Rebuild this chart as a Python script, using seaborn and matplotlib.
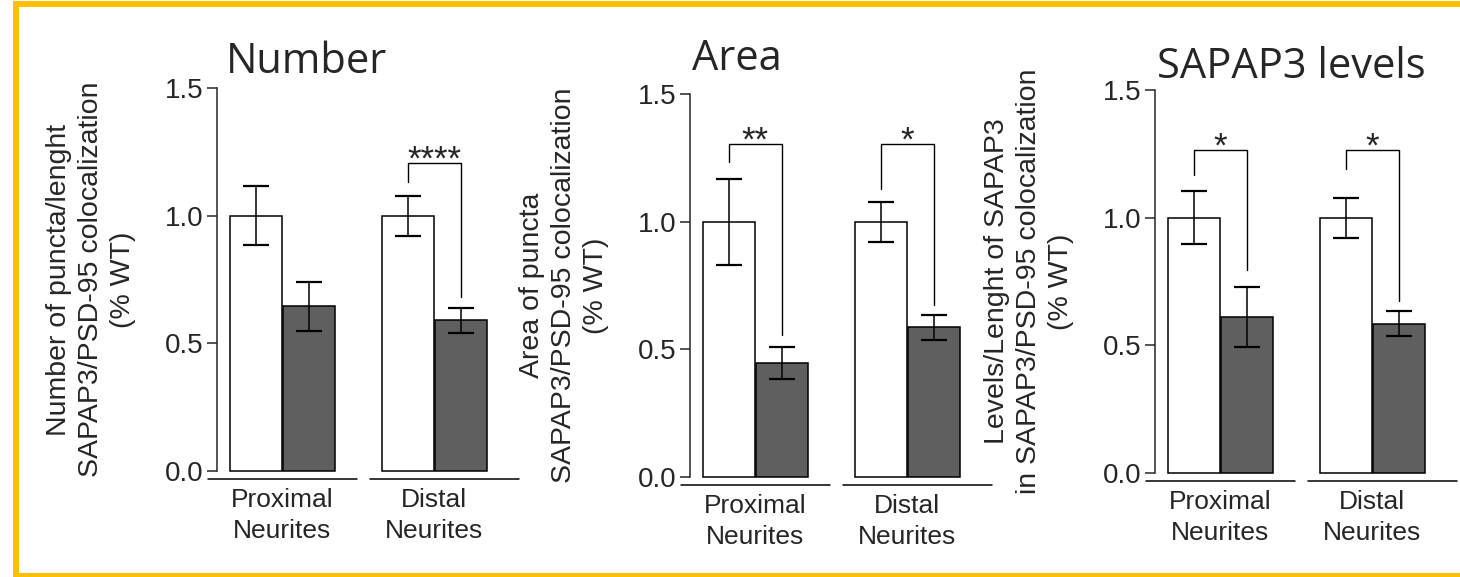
import pandas as pd
import matplotlib.pyplot as plt
import numpy as np
import seaborn as sns
from matplotlib.lines import Line2D
from matplotlib.ticker import FormatStrFormatter

#Values (mean and SEM, normalised to WT)
regions = ['Proximal\nNeurites', 'Distal\nNeurites']
genotypes = ['WT', 'Mutant']

number_wt = [1.0, 1.0]
number_wt_sem = [0.115, 0.078]
number_mut = [0.645, 0.59]
number_mut_sem = [0.097, 0.05]

area_wt = [1.0, 1.0]
area_wt_sem = [0.168, 0.078]
area_mut = [0.447, 0.587]
area_mut_sem = [0.063, 0.049]

levels_wt = [1.0, 1.0]
levels_wt_sem = [0.105, 0.078]
levels_mut = [0.612, 0.585]
levels_mut_sem = [0.118, 0.048]

#Significance stars per region and bracket heights (left leg, top, right leg)
number_stars = ['', '****']
number_brackets = [None, (1.13, 1.205, 0.68)]
area_stars = ['**', '*']
area_brackets = [(1.235, 1.305, 0.557), (1.127, 1.305, 0.674)]
levels_stars = ['*', '*']
levels_brackets = [(1.167, 1.265, 0.795), (1.19, 1.265, 0.672)]

titles = ['Number', 'Area', 'SAPAP3 levels']
ylabels = ['Number of puncta/lenght\nSAPAP3/PSD-95 colocalization\n(% WT)',
           'Area of puncta\nSAPAP3/PSD-95 colocalization\n(% WT)',
           'Levels/Lenght of SAPAP3\nin SAPAP3/PSD-95 colocalization\n(% WT)']

sns.set_style('ticks')
plt.rcParams['font.family'] = ['Liberation Sans', 'DejaVu Sans']

W, H = 1460, 577
fig = plt.figure(figsize=(W / 100, H / 100), dpi=100)

#pixel layout: spine x, y of 1.5, y of 0.0, title x, title baseline y
layout = [(217, 88, 471, 226, 73),
          (690, 94, 477, 692, 70),
          (1155, 90, 473, 1157, 78)]
unit = 152
xlim = (-0.43, 1.6)
line_spans = [(-0.49, 0.49), (-0.425, 0.555)]


def draw_panel(ax, wt, wt_sem, mut, mut_sem, stars, brackets, ylabel):
    df = pd.DataFrame({'region': regions * 2,
                       'genotype': [genotypes[0]] * 2 + [genotypes[1]] * 2,
                       'value': wt + mut})
    sems = [wt_sem, mut_sem]
    sns.barplot(data=df, x='region', y='value', hue='genotype', order=regions,
                hue_order=genotypes, palette=['white', '#5f5f5f'], saturation=1,
                edgecolor='black', linewidth=1.1, width=0.704, gap=0.03,
                errorbar=None, legend=False, ax=ax)

    bar_conts = list(ax.containers)
    centers = []
    for i, cont in enumerate(bar_conts):
        row = []
        for j, bar in enumerate(cont):
            bar.set_clip_on(False)
            cx = bar.get_x() + bar.get_width() / 2
            row.append(cx)
            ax.errorbar(cx, bar.get_height(), yerr=sems[i][j], color='black',
                        elinewidth=1.1, capsize=9.4, capthick=1.6, clip_on=False)
        centers.append(row)

    for j, br in enumerate(brackets):
        if br is None:
            continue
        lx, rx = centers[0][j], centers[1][j]
        ax.plot([lx, lx, rx, rx], [br[0], br[1], br[1], br[2]], color='black',
                lw=1.0, clip_on=False)
        ax.text((lx + rx) / 2, br[1] - 0.025, stars[j], ha='center', va='baseline',
                fontsize=25)

    for j, (a, b) in enumerate(line_spans):
        ax.plot([j + a, j + b], [-0.032, -0.032], color='black', lw=1.1, clip_on=False)

    ax.set_xlim(*xlim)
    ax.set_ylim(0, 1.5)
    ax.set_yticks([0, 0.5, 1.0, 1.5])
    ax.yaxis.set_major_formatter(FormatStrFormatter('%.1f'))
    sns.despine(ax=ax, bottom=True)
    ax.spines['left'].set_linewidth(1.1)
    ax.tick_params(axis='y', length=7.2, width=1.1, labelsize=20, pad=2.5)
    ax.tick_params(axis='x', length=0, labelsize=19, pad=12)
    for lab in ax.get_xticklabels():
        lab.set_linespacing(1.4)
    ax.set_xlabel('')
    ax.set_ylabel(ylabel, fontsize=20.5, va='center', linespacing=1.3)
    ax.yaxis.set_label_coords(-0.408, 0.5)


panel_data = [
    (number_wt, number_wt_sem, number_mut, number_mut_sem, number_stars, number_brackets),
    (area_wt, area_wt_sem, area_mut, area_mut_sem, area_stars, area_brackets),
    (levels_wt, levels_wt_sem, levels_mut, levels_mut_sem, levels_stars, levels_brackets),
]

for k, (sx, ytop, ybot, tx, ty) in enumerate(layout):
    width = (xlim[1] - xlim[0]) * unit
    ax = fig.add_axes([sx / W, 1 - ybot / H, width / W, (ybot - ytop) / H])
    draw_panel(ax, *panel_data[k], ylabels[k])
    fig.text(tx / W, 1 - ty / H, titles[k], fontfamily='Open Sans', fontsize=30,
             ha='left', va='baseline')

#gold frame: top, left and bottom edges only
gold = '#FFC000'
fig.add_artist(Line2D([16 / W, 16 / W, 1.02], [-0.02, 1 - 3.5 / H, 1 - 3.5 / H],
                      transform=fig.transFigure, color=gold, lw=4.3,
                      solid_joinstyle='miter'))
fig.add_artist(Line2D([16 / W, 1.02], [1 / H, 1 / H], transform=fig.transFigure,
                      color=gold, lw=4.3))

fig.savefig('out.png', dpi=100)
